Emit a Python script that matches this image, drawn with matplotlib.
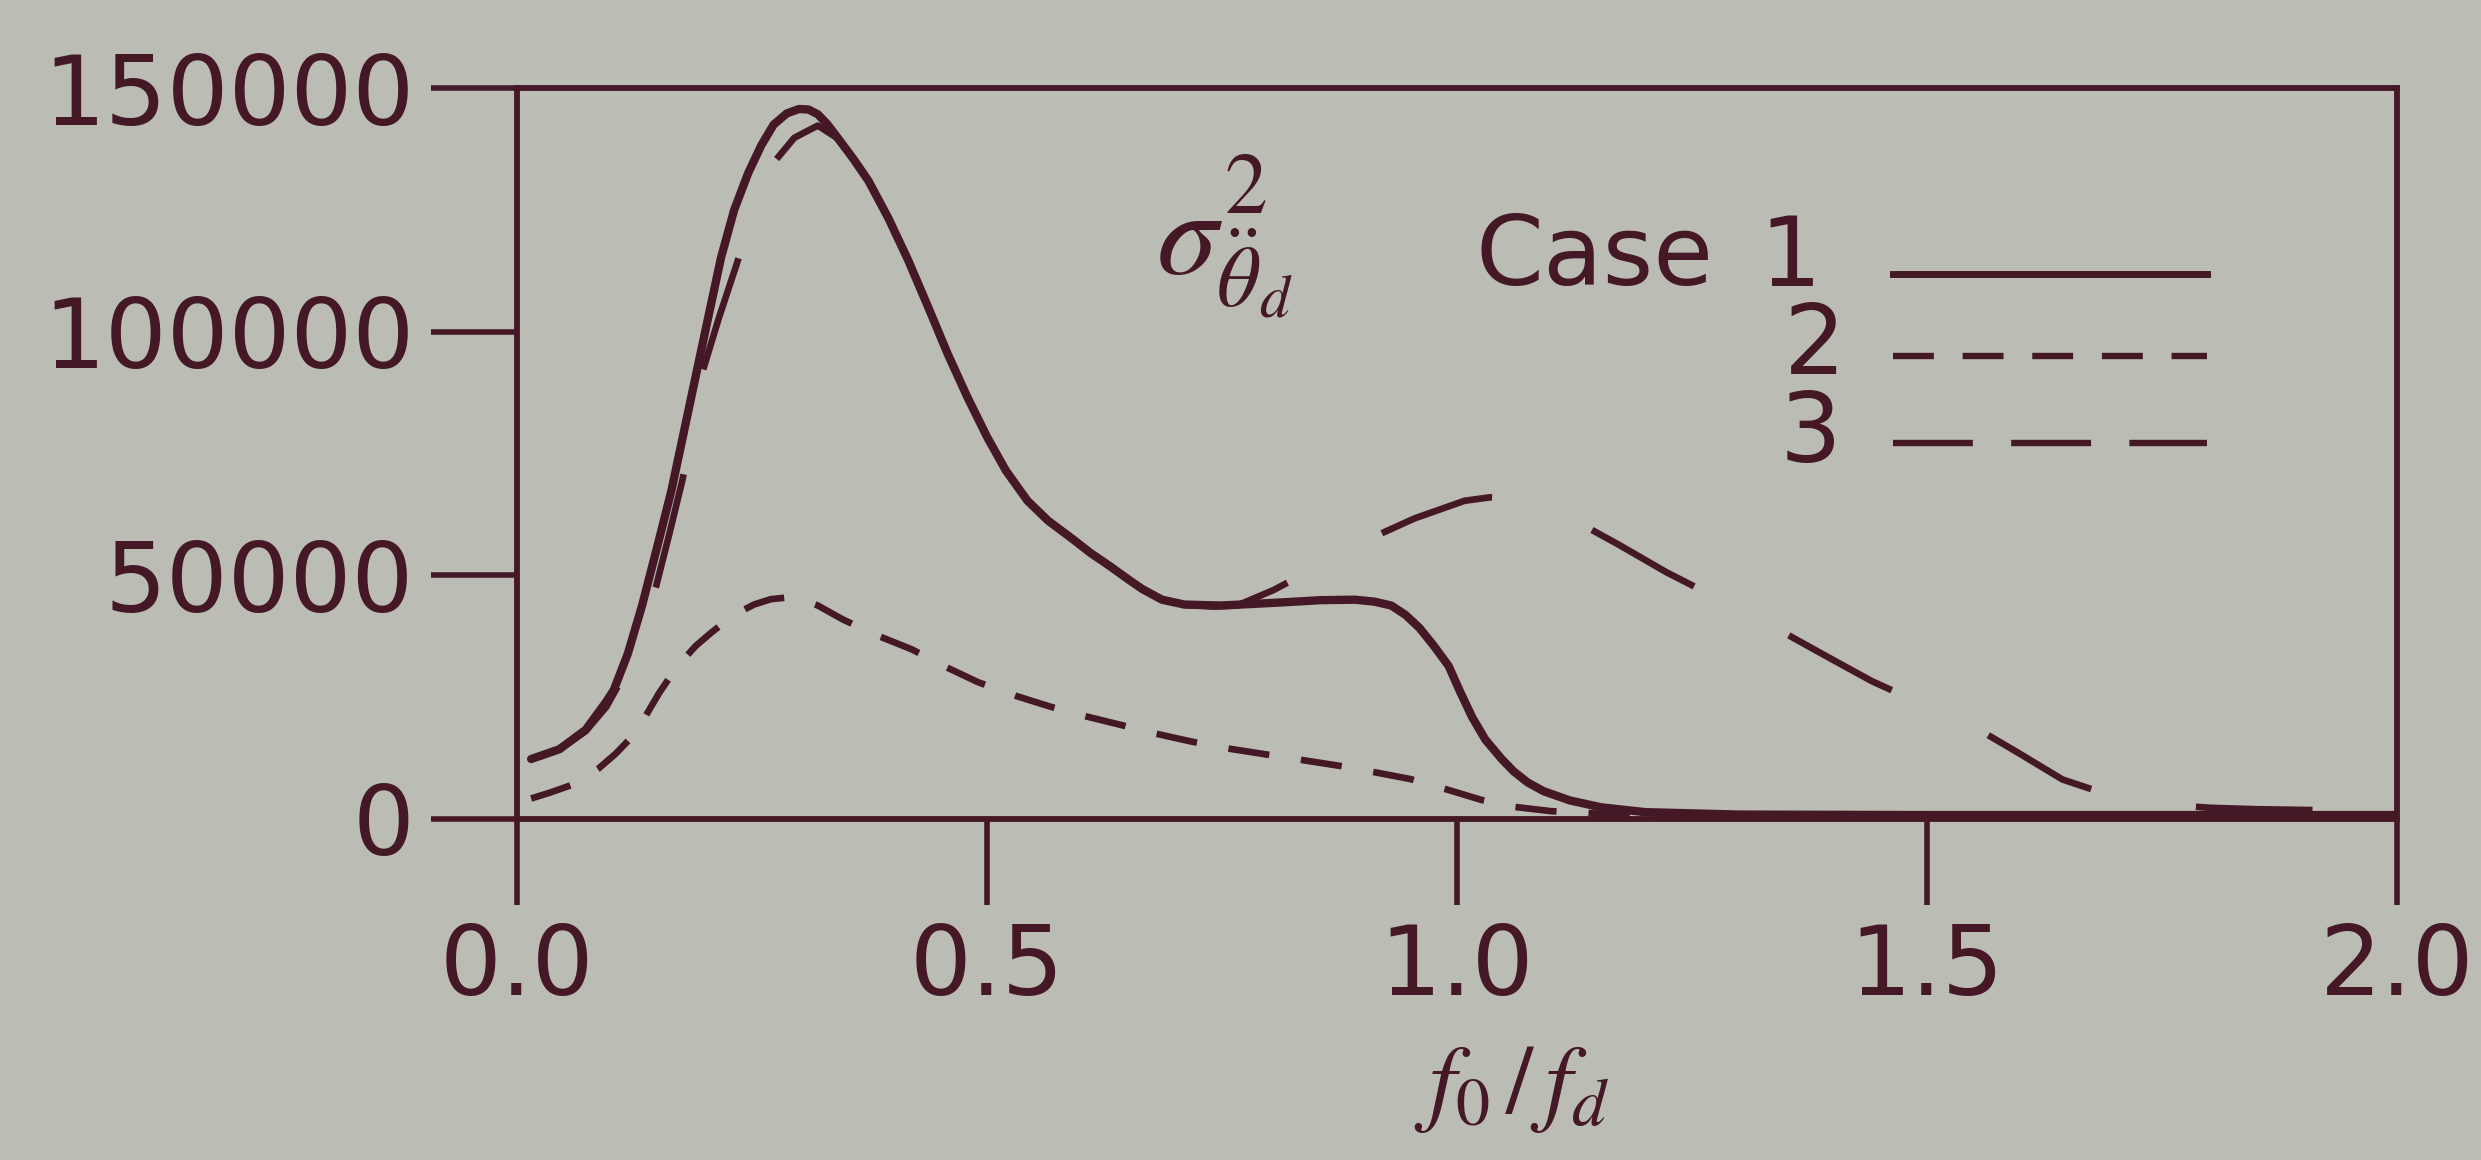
import matplotlib
matplotlib.use("Agg")
import matplotlib.pyplot as plt
from matplotlib.lines import Line2D

plt.rcParams['font.family'] = ['DejaVu Sans']
plt.rcParams['mathtext.fontset'] = 'stix'

# ---------------- data ----------------
x_case1 = [0.015, 0.045, 0.073, 0.095, 0.103, 0.118, 0.133, 0.148, 0.164, 0.177,
           0.19, 0.204, 0.217, 0.231, 0.246, 0.26, 0.273, 0.287, 0.30, 0.31,
           0.32, 0.33, 0.343, 0.358, 0.374, 0.395, 0.416, 0.437, 0.458, 0.479,
           0.50, 0.52, 0.543, 0.565, 0.59, 0.61, 0.632, 0.65, 0.665, 0.686,
           0.71, 0.748, 0.78, 0.819, 0.855, 0.891, 0.912, 0.93, 0.945, 0.96,
           0.975, 0.991, 1.003, 1.016, 1.03, 1.047, 1.06, 1.075, 1.092, 1.12,
           1.153, 1.2, 1.3, 1.5, 1.75, 2.0]
y_case1 = [12300, 14300, 18300, 24100, 26500, 34000, 43800, 55000, 67200, 79000,
           90800, 103500, 115200, 125000, 132600, 138300, 142500, 144800, 145700, 145600,
           144600, 142600, 139300, 135400, 130900, 123300, 114700, 105200, 95500, 86600,
           78400, 71500, 65300, 61200, 57600, 54600, 51700, 49200, 47200, 45000,
           44000, 43800, 44100, 44500, 44900, 45000, 44600, 43800, 41900, 39200,
           35600, 31400, 26200, 20900, 16300, 12400, 9800, 7500, 5700, 3800,
           2400, 1400, 900, 800, 800, 800]

x_case2 = [0.015, 0.035, 0.06, 0.087, 0.105, 0.123, 0.137, 0.151, 0.17, 0.19,
           0.207, 0.23, 0.252, 0.27, 0.285, 0.30, 0.32, 0.346, 0.38, 0.42,
           0.455, 0.49, 0.53, 0.568, 0.60, 0.636, 0.675, 0.717, 0.755, 0.795,
           0.835, 0.875, 0.912, 0.95, 0.99, 1.026, 1.06, 1.1, 1.16, 1.3,
           1.5, 1.75, 2.0]
y_case2 = [4200, 5400, 7100, 10400, 13400, 17000, 21200, 25800, 31200, 35500,
           38300, 41800, 44000, 45100, 45400, 45200, 43800, 41000, 37900, 34800,
           31300, 28100, 25300, 23000, 21300, 19600, 17700, 15900, 14500, 13300,
           12100, 10900, 9600, 8200, 6000, 3900, 2500, 1600, 1000, 800,
           800, 800, 800]

x_case3 = [0.015, 0.045, 0.073, 0.095, 0.118, 0.133, 0.148, 0.162, 0.176, 0.187,
           0.197, 0.215, 0.233, 0.253, 0.273, 0.295, 0.32, 0.34, 0.358, 0.374,
           0.395, 0.416, 0.437, 0.458, 0.479, 0.50, 0.52, 0.543, 0.565, 0.59,
           0.61, 0.632, 0.65, 0.665, 0.686, 0.71, 0.74, 0.766, 0.805, 0.85,
           0.90, 0.955, 1.008, 1.035, 1.06, 1.09, 1.116, 1.17, 1.223, 1.28,
           1.333, 1.39, 1.441, 1.49, 1.542, 1.595, 1.644, 1.70, 1.75, 1.80,
           1.85, 1.92, 2.0]
y_case3 = [12300, 14300, 18000, 23000, 31000, 38500, 47800, 58500, 69600, 80600,
           91600, 103000, 113500, 125500, 134700, 139800, 142300, 139800, 135400, 130900,
           123300, 114700, 105200, 95500, 86600, 78400, 71500, 65300, 61200, 57600,
           54600, 51700, 49200, 47200, 45000, 44000, 43600, 43800, 47000, 51600,
           56900, 61700, 65300, 66000, 65800, 64500, 62200, 56500, 50600, 45000,
           39800, 33700, 28300, 24000, 19800, 13800, 8100, 4500, 3000, 2300,
           2000, 1800, 1600]

x_ticks = [0.0, 0.5, 1.0, 1.5, 2.0]
x_tick_labels = ['0.0', '0.5', '1.0', '1.5', '2.0']
y_ticks = [0, 50000, 100000, 150000]
y_tick_labels = ['0', '50000', '100000', '150000']
case_labels = ['1', '2', '3']

# ---------------- style ----------------
BG = '#bbbdb5'
INK = '#451826'
FS = 70

fig = plt.figure(figsize=(24.81, 11.60), dpi=100)
fig.patch.set_facecolor(BG)
ax = fig.add_axes([0.2084, 0.2940, 0.7578, 0.6301])
ax.set_facecolor(BG)

ax.plot(x_case1, y_case1, color=INK, lw=6.0, solid_joinstyle='round',
        solid_capstyle='round', zorder=3)
ax.plot(x_case2, y_case2, color=INK, lw=4.8, dashes=(6.2, 4.8), zorder=3)
ax.plot(x_case3, y_case3, color=INK, lw=4.8, dashes=(17.5, 16.0), zorder=3)

ax.set_xlim(0, 2.0)
ax.set_ylim(0, 150000)
ax.set_xticks(x_ticks)
ax.set_xticklabels(x_tick_labels)
ax.set_yticks(y_ticks)
ax.set_yticklabels(y_tick_labels)
ax.tick_params(axis='both', direction='out', length=62, width=4.0, color=INK,
               labelcolor=INK, labelsize=FS, pad=12, top=False, right=False)
for s in ax.spines.values():
    s.set_color(INK)
    s.set_linewidth(4.2)

ax.set_xlabel(r'$f_0\,/\,f_d$', fontsize=70, color=INK)
ax.xaxis.set_label_coords(0.529, -0.305)
ax.xaxis.label.set_va('top')

# ---------------- legend block (axes fractions) ----------------
ax.text(0.376, 0.795, r'$\sigma^{2}_{\ddot{\theta}_{d}}$', transform=ax.transAxes,
        fontsize=88, color=INK, ha='center', va='center')
ax.text(0.510, 0.767, 'Case', transform=ax.transAxes, fontsize=FS, color=INK,
        ha='left', va='center')
label_pos = [(0.675, 0.765), (0.688, 0.645), (0.686, 0.525)]
line_y = [0.746, 0.634, 0.514]
line_styles = [dict(lw=5.0), dict(lw=4.6, dashes=(6.4, 4.5)), dict(lw=4.6, dashes=(12.5, 6.0))]
for lab, (tx, ty), ly, st in zip(case_labels, label_pos, line_y, line_styles):
    ax.text(tx, ty, r'$\mathregular{' + lab + '}$', transform=ax.transAxes,
            fontsize=FS, color=INK, ha='center', va='center')
    ax.add_line(Line2D([0.732, 0.899], [ly, ly], transform=ax.transAxes,
                       color=INK, **st))

fig.savefig('out.png', dpi=100, facecolor=BG)
